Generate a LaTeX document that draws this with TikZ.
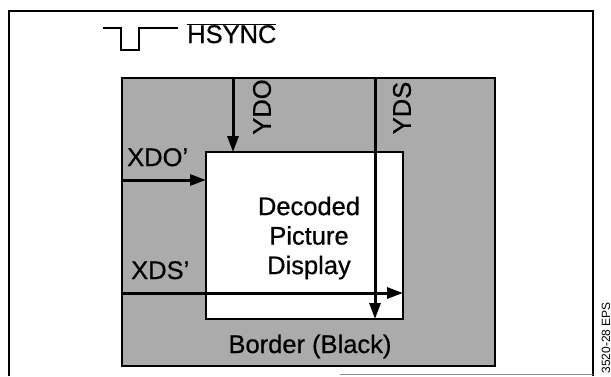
\documentclass[tikz,border=0pt]{standalone}
\usepackage{fontspec}
\setmainfont{Liberation Sans}
\usetikzlibrary{arrows.meta}
\tikzset{
  lbl/.style={inner sep=0pt,font=\fontsize{25.5}{29.5}\selectfont\addfontfeature{FakeBold=0.6}},
  area/.style={draw,line width=2pt,anchor=north west,inner sep=0pt,outer sep=0pt},
  sig/.style={->,line width=3pt},
}

\begin{document}
\begin{tikzpicture}[x=1pt,y=-1pt,>={Triangle[length=16pt,width=11pt]}]
  \useasboundingbox (0,0) rectangle (611,376);
  \draw[line width=2.5pt] (9,376) -- (9,11) -- (593,11) -- (593,376);
  \draw[black!45,line width=0.6pt] (340,374) -- (593,374);
  \draw[line width=2.5pt] (103,28) -- (121,28) -- (121,50) -- (139,50) -- (139,28) -- (178,28);
  \node[lbl,anchor=base west] (hsync) at (187,43) {$\overline{\hbox{HSYNC}}$};
  \node[area,fill=black!33,minimum width=373pt,minimum height=288pt] (border) at (122,78) {};
  \node[area,fill=white,minimum width=197pt,minimum height=167pt] (pic) at (206,152) {};
  \draw[sig] (border.west |- 0,180) -- (pic.west |- 0,180);
  \draw[sig] (border.west |- 0,293) -- (pic.east |- 0,293);
  \draw[sig] (border.north -| 233,0) -- (pic.north -| 233,0);
  \draw[sig] (border.north -| 375,0) -- (pic.south -| 375,0);
  \node[lbl,anchor=base west] (xdo lbl) at (127,166) {XDO'};
  \node[lbl,anchor=base west] (xds lbl) at (131,279) {XDS'};
  \node[lbl,rotate=90] (ydo lbl) at (262,107) {YDO};
  \node[lbl,rotate=90] (yds lbl) at (402,108) {YDS};
  \node[lbl,align=center] (dpd) at (309,238) {Decoded\\Picture\\Display};
  \node[lbl,anchor=base] (bdr lbl) at (310,353) {Border (Black)};
  \node[inner sep=0pt,font=\fontsize{12}{14}\selectfont,rotate=90,anchor=base east] (eps) at (610,302) {3520-28 EPS};
\end{tikzpicture}
\end{document}
